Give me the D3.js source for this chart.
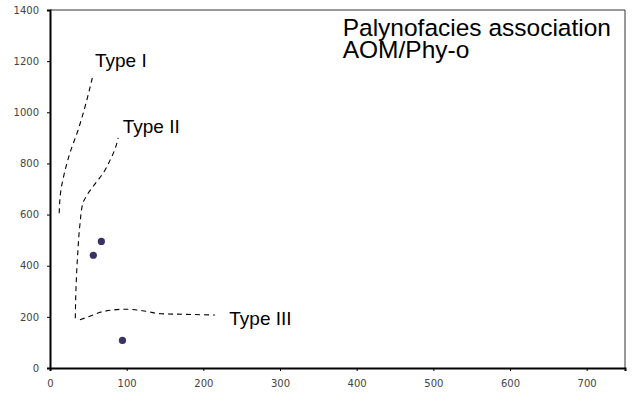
<!DOCTYPE html>
<html>
<head>
<meta charset="utf-8">
<script src="https://cdn.jsdelivr.net/npm/d3@7"></script>
<style>
  body { margin: 0; background: #fff; }
  svg { display: block; }
</style>
</head>
<body>
<svg id="chart" width="636" height="405"></svg>
<script>
// samples (AOM vs Phy-o)
const sampleX = [67, 56.5, 94.5];
const sampleY = [495, 441, 108];

// kerogen type boundaries
const type1X = [12, 14, 19, 27, 36, 46, 56];
const type1Y = [605, 690, 765, 850, 925, 1025, 1145];
const type2X = [33, 34, 36, 39, 43, 48, 60, 70, 78, 84, 89];
const type2Y = [195, 320, 440, 560, 645, 675, 725, 765, 810, 850, 900];
const type3X = [39, 50, 68, 100, 125, 145, 175, 215];
const type3Y = [189, 200, 220, 230, 222, 212, 210, 207];

const xTicks = [0, 100, 200, 300, 400, 500, 600, 700];
const yTicks = [0, 200, 400, 600, 800, 1000, 1200, 1400];

const labels = [
  { text: 'Type I', x: 95, y: 66.7 },
  { text: 'Type II', x: 122.7, y: 133.3 },
  { text: 'Type III', x: 229.3, y: 325 }
];

const mLeft = 50, mRight = 625, mTop = 10, mBottom = 368;

const svg = d3.select('#chart');

const xScale = d3.scaleLinear().domain([0, 750]).range([mLeft, mRight]);
const yScale = d3.scaleLinear().domain([0, 1400]).range([mBottom, mTop]);

// frame top/right
svg.append('path')
  .attr('d', `M${mLeft},${mTop}H${mRight}V${mBottom}`)
  .attr('fill', 'none')
  .attr('stroke', '#333')
  .attr('stroke-width', 1);

const xAxis = svg.append('g')
  .attr('transform', `translate(0,${mBottom})`)
  .call(d3.axisBottom(xScale).tickValues(xTicks).tickFormat(d3.format('d')).tickSize(3).tickPadding(9));

const yAxis = svg.append('g')
  .attr('transform', `translate(${mLeft},0)`)
  .call(d3.axisLeft(yScale).tickValues(yTicks).tickFormat(d3.format('d')).tickSize(3).tickPadding(8));

[xAxis, yAxis].forEach(ax => {
  ax.select('.domain').attr('stroke', '#000').attr('stroke-width', 2);
  ax.selectAll('.tick line').attr('stroke', '#000');
  ax.selectAll('text')
    .style('font-family', '"DejaVu Sans", Verdana, sans-serif')
    .style('font-size', '10px')
    .attr('fill', '#444');
});

const line = d3.line()
  .x(d => xScale(d[0]))
  .y(d => yScale(d[1]))
  .curve(d3.curveMonotoneY);

const lineX = d3.line()
  .x(d => xScale(d[0]))
  .y(d => yScale(d[1]))
  .curve(d3.curveMonotoneX);

const zip = (a, b) => a.map((v, i) => [v, b[i]]);

svg.append('path')
  .datum(zip(type1X, type1Y))
  .attr('d', line)
  .attr('fill', 'none').attr('stroke', '#000').attr('stroke-width', 1.1)
  .attr('stroke-dasharray', '5,4');

svg.append('path')
  .datum(zip(type2X, type2Y))
  .attr('d', line)
  .attr('fill', 'none').attr('stroke', '#000').attr('stroke-width', 1.1)
  .attr('stroke-dasharray', '5,4');

svg.append('path')
  .datum(zip(type3X, type3Y))
  .attr('d', lineX)
  .attr('fill', 'none').attr('stroke', '#000').attr('stroke-width', 1.1)
  .attr('stroke-dasharray', '5,4');

svg.selectAll('circle')
  .data(zip(sampleX, sampleY))
  .enter()
  .append('circle')
  .attr('cx', d => xScale(d[0]))
  .attr('cy', d => yScale(d[1]))
  .attr('r', 3.6)
  .attr('fill', '#3b3163');

svg.selectAll('text.lab')
  .data(labels)
  .enter()
  .append('text')
  .attr('class', 'lab')
  .attr('x', d => d.x)
  .attr('y', d => d.y)
  .style('font-family', '"Liberation Sans", Arial, sans-serif')
  .style('font-size', '19px')
  .attr('fill', '#000')
  .text(d => d.text);

const title = svg.append('text')
  .attr('x', 342.7)
  .attr('y', 36)
  .style('font-family', '"Liberation Sans", Arial, sans-serif')
  .style('font-size', '24.5px')
  .attr('fill', '#000');
title.append('tspan').attr('x', 342.7).text('Palynofacies association');
title.append('tspan').attr('x', 342.7).attr('dy', 22).text('AOM/Phy-o');
</script>
</body>
</html>
